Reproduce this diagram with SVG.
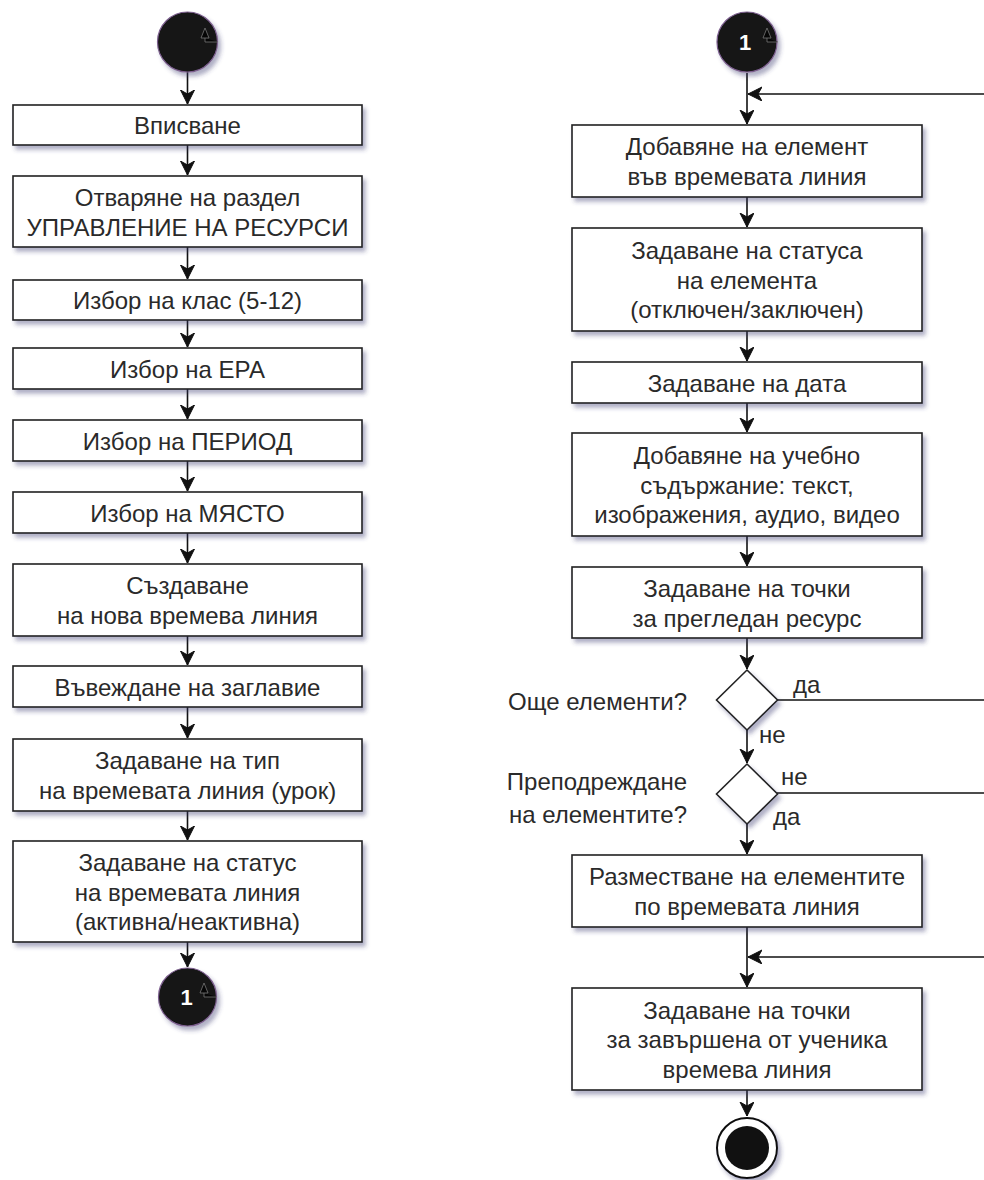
<svg xmlns="http://www.w3.org/2000/svg" width="984" height="1180" viewBox="0 0 984 1180">
<style>
.box{fill:#fff;stroke:#222;stroke-width:1.6;filter:url(#sh)}
.t{font-family:"Liberation Sans",Arial,sans-serif;font-size:24px;fill:#2a2a2a;text-anchor:middle}
.lbl{font-family:"Liberation Sans",Arial,sans-serif;font-size:24px;fill:#2a2a2a}
.e{fill:none;stroke:#111;stroke-width:1.6}
.ea{fill:none;stroke:#111;stroke-width:1.6;marker-end:url(#ah)}
.dot{fill:#121212;stroke:#7c5f8e;stroke-width:1.2;filter:url(#sh)}
.art{fill:#050505;stroke:#777;stroke-width:0.8}
.num{font-family:"Liberation Sans",Arial,sans-serif;font-size:22px;font-weight:bold;fill:#fff;text-anchor:middle}
</style>
<defs>
<filter id="sh" x="-20%" y="-20%" width="150%" height="160%">
<feDropShadow dx="3" dy="4" stdDeviation="2.2" flood-color="#3b3b70" flood-opacity="0.4"/>
</filter>
<marker id="ah" markerUnits="userSpaceOnUse" markerWidth="16" markerHeight="16" refX="14" refY="7" orient="auto">
<path d="M0,0 L14,7 L0,14 L4,7 z" fill="#111" stroke="#111" stroke-width="1"/>
</marker>
</defs>

<g id="connectors">
<line class="ea" x1="187.5" y1="72" x2="187.5" y2="104"/>
<line class="ea" x1="187.5" y1="145" x2="187.5" y2="175"/>
<line class="ea" x1="187.5" y1="247" x2="187.5" y2="279"/>
<line class="ea" x1="187.5" y1="320" x2="187.5" y2="347"/>
<line class="ea" x1="187.5" y1="389" x2="187.5" y2="419"/>
<line class="ea" x1="187.5" y1="461" x2="187.5" y2="491"/>
<line class="ea" x1="187.5" y1="533" x2="187.5" y2="563"/>
<line class="ea" x1="187.5" y1="636" x2="187.5" y2="665"/>
<line class="ea" x1="187.5" y1="707" x2="187.5" y2="738"/>
<line class="ea" x1="187.5" y1="811" x2="187.5" y2="840"/>
<line class="ea" x1="187.5" y1="942" x2="187.5" y2="967"/>

<line class="ea" x1="747" y1="73" x2="747" y2="124"/>
<line class="ea" x1="984" y1="94" x2="748" y2="94"/>
<line class="ea" x1="747" y1="197" x2="747" y2="227"/>
<line class="ea" x1="747" y1="331" x2="747" y2="361"/>
<line class="ea" x1="747" y1="403" x2="747" y2="432"/>
<line class="ea" x1="747" y1="536" x2="747" y2="566"/>
<line class="ea" x1="747" y1="638" x2="747" y2="669"/>
<line class="ea" x1="747" y1="730" x2="747" y2="763"/>
<line class="ea" x1="747" y1="824" x2="747" y2="854"/>
<line class="e" x1="777" y1="700" x2="984" y2="700"/>
<line class="e" x1="777" y1="793" x2="984" y2="793"/>
<line class="ea" x1="747" y1="927" x2="747" y2="987"/>
<line class="ea" x1="984" y1="957" x2="748" y2="957"/>
<line class="ea" x1="747" y1="1090" x2="747" y2="1116"/>
<text class="lbl" x="793" y="693">да</text>
<text class="lbl" x="759" y="743">не</text>
<text class="lbl" x="781" y="785">не</text>
<text class="lbl" x="773" y="825">да</text>
</g>

<g id="start1">
<circle class="dot" cx="187.5" cy="42" r="30"/>
<path class="art" d="M218,42 L205,42 L205,38 L201,38 L205,28 L209,38 L205,38"/>
</g>
<g id="n_vpisvane"><rect class="box" x="13" y="105" width="349" height="40"/><text class="t" x="187.5" y="134">Вписване</text></g>
<g id="n_otvarqne"><rect class="box" x="13" y="176" width="349" height="71"/><text class="t" x="187.5" y="206">Отваряне на раздел</text><text class="t" x="187.5" y="236">УПРАВЛЕНИЕ НА РЕСУРСИ</text></g>
<g id="n_klas"><rect class="box" x="13" y="280" width="349" height="40"/><text class="t" x="187.5" y="309">Избор на клас (5-12)</text></g>
<g id="n_era"><rect class="box" x="13" y="348" width="349" height="41"/><text class="t" x="187.5" y="377.5">Избор на ЕРА</text></g>
<g id="n_period"><rect class="box" x="13" y="420" width="349" height="41"/><text class="t" x="187.5" y="449.5">Избор на ПЕРИОД</text></g>
<g id="n_mqsto"><rect class="box" x="13" y="492" width="349" height="41"/><text class="t" x="187.5" y="521.5">Избор на МЯСТО</text></g>
<g id="n_sazdavane"><rect class="box" x="13" y="564" width="349" height="72"/><text class="t" x="187.5" y="594">Създаване</text><text class="t" x="187.5" y="624">на нова времева линия</text></g>
<g id="n_zaglavie"><rect class="box" x="13" y="666" width="349" height="41"/><text class="t" x="187.5" y="695.5">Въвеждане на заглавие</text></g>
<g id="n_tip"><rect class="box" x="13" y="739" width="349" height="72"/><text class="t" x="187.5" y="769">Задаване на тип</text><text class="t" x="187.5" y="799">на времевата линия (урок)</text></g>
<g id="n_status"><rect class="box" x="13" y="841" width="349" height="101"/><text class="t" x="187.5" y="871">Задаване на статус</text><text class="t" x="187.5" y="900.5">на времевата линия</text><text class="t" x="187.5" y="930">(активна/неактивна)</text></g>
<g id="conn1_out">
<circle class="dot" cx="187.5" cy="997" r="29"/>
<path class="art" d="M217,997 L204,997 L204,993 L200,993 L204,983 L208,993 L204,993"/>
<text class="num" x="186.5" y="1005">1</text>
</g>

<g id="conn1_in">
<circle class="dot" cx="747" cy="42" r="30"/>
<path class="art" d="M778,42 L767,42 L767,38 L763,38 L767,28 L771,38 L767,38"/>
<text class="num" x="745" y="50">1</text>
</g>
<g id="r_element"><rect class="box" x="572" y="125" width="350" height="72"/><text class="t" x="747" y="155">Добавяне на елемент</text><text class="t" x="747" y="185">във времевата линия</text></g>
<g id="r_statusa"><rect class="box" x="572" y="228" width="350" height="103"/><text class="t" x="747" y="259">Задаване на статуса</text><text class="t" x="747" y="288.5">на елемента</text><text class="t" x="747" y="318">(отключен/заключен)</text></g>
<g id="r_data"><rect class="box" x="572" y="362" width="350" height="41"/><text class="t" x="747" y="391.5">Задаване на дата</text></g>
<g id="r_sadarjanie"><rect class="box" x="572" y="433" width="350" height="103"/><text class="t" x="747" y="464">Добавяне на учебно</text><text class="t" x="747" y="493.5">съдържание: текст,</text><text class="t" x="747" y="523">изображения, аудио, видео</text></g>
<g id="r_tochki1"><rect class="box" x="572" y="567" width="350" height="71"/><text class="t" x="747" y="596.5">Задаване на точки</text><text class="t" x="747" y="626.5">за прегледан ресурс</text></g>
<g id="d_oshte">
<polygon class="box" points="747,670 777.5,700 747,730 716.5,700"/>
<text class="lbl" x="687" y="710" text-anchor="end">Още елементи?</text>
</g>
<g id="d_prepodr">
<polygon class="box" points="747,764 777.5,794 747,824 716.5,794"/>
<text class="lbl" x="687" y="790" text-anchor="end">Преподреждане</text>
<text class="lbl" x="687" y="823" text-anchor="end">на елементите?</text>
</g>
<g id="r_razmestvane"><rect class="box" x="572" y="855" width="350" height="72"/><text class="t" x="747" y="885">Разместване на елементите</text><text class="t" x="747" y="915">по времевата линия</text></g>
<g id="r_tochki2"><rect class="box" x="572" y="988" width="350" height="102"/><text class="t" x="747" y="1018.5">Задаване на точки</text><text class="t" x="747" y="1048">за завършена от ученика</text><text class="t" x="747" y="1077.5">времева линия</text></g>
<g id="end">
<circle cx="747" cy="1148" r="30" fill="#fff" stroke="#111" stroke-width="2" filter="url(#sh)"/>
<circle cx="747" cy="1148" r="22" fill="#111"/>
</g>
</svg>
